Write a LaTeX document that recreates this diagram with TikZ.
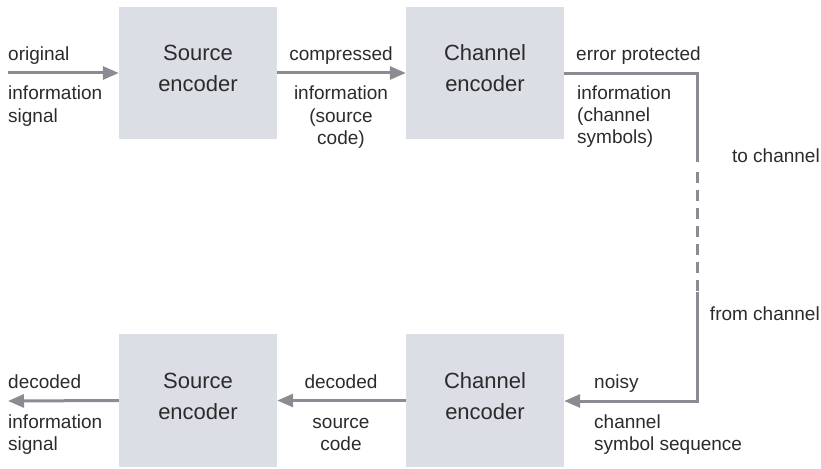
\documentclass[tikz,border=0pt]{standalone}
\usepackage{fontspec}
\setmainfont{Liberation Sans}
\usetikzlibrary{arrows.meta}
\definecolor{boxfill}{HTML}{DCDEE5}
\definecolor{flow}{HTML}{8C8B94}
\definecolor{ink}{HTML}{2B2B2B}

\begin{document}
\begin{tikzpicture}[x=1pt,y=-1pt,
  block/.style={fill=boxfill, minimum width=158pt, minimum height=132pt, inner sep=0pt,
    align=center, text=ink, font=\fontsize{22pt}{31pt}\selectfont},
  lbl/.style={text=ink, inner sep=0pt, font=\fontsize{19pt}{22pt}\selectfont},
  flowline/.style={draw=flow, line width=3pt},
  flowarrow/.style={flowline, -{Triangle[length=16pt,width=13pt]}}]

\useasboundingbox (0,0) rectangle (821,468);

% processing blocks
\node[block] (senc) at (198,73) {Source\\encoder\rule[-9pt]{0pt}{9pt}};
\node[block] (chenc) at (485,73) {Channel\\encoder\rule[-9pt]{0pt}{9pt}};
\node[block, minimum height=133pt] (chdec) at (485,400.5) {Channel\\encoder\rule[-9pt]{0pt}{9pt}};
\node[block, minimum height=133pt] (sdec) at (198,400.5) {Source\\encoder\rule[-9pt]{0pt}{9pt}};

% loose ends and bends of the signal path
\coordinate (src) at (8,73);
\coordinate (sink) at (8,401);
\coordinate (c1) at (697,74);
\coordinate (d1) at (697,162);
\coordinate (k1) at (697,172);
\coordinate (k2) at (697,291);
\coordinate (d2) at (697,292);
\coordinate (c2) at (697,401);

% signal path
\draw[flowarrow] (src) -- (senc.west);
\draw[flowarrow] (senc.east) -- (chenc.west);
\draw[flowline] (chenc.east |- c1) -- (c1) -- (d1);
\draw[flowline, dash pattern=on 11pt off 7pt] (k1) -- (k2);
\draw[flowarrow] (d2) -- (c2) -- (chdec.east |- c2);
\draw[flowarrow] (chdec.west) -- (sdec.east);
\draw[flowarrow] (sdec.west) -- (sink);

% labels (multi-line ones are placed by the baseline of their last line)
\node[lbl, anchor=base west] (l-orig) at (8,61) {original};
\node[lbl, anchor=base west, align=left] (l-info) at (8,122) {information\\signal};
\node[lbl, anchor=base] (l-comp) at (341,61) {compressed};
\node[lbl, anchor=base, align=center] (l-scode) at (341,144) {information\\(source\\code)};
\node[lbl, anchor=base west] (l-err) at (576,61) {error protected};
\node[lbl, anchor=base west, align=left] (l-csym) at (577,143) {information\\(channel\\symbols)};
\node[lbl, anchor=base east] (l-to) at (820,162) {to channel};
\node[lbl, anchor=base east] (l-from) at (820,320) {from channel};
\node[lbl, anchor=base west] (l-dec) at (8,388) {decoded};
\node[lbl, anchor=base west, align=left] (l-dinfo) at (8,450) {information\\signal};
\node[lbl, anchor=base] (l-dec2) at (341,388) {decoded};
\node[lbl, anchor=base, align=center] (l-dcode) at (341,450) {source\\code};
\node[lbl, anchor=base west] (l-noisy) at (594,388) {noisy};
\node[lbl, anchor=base west, align=left] (l-seq) at (594,450) {channel\\symbol sequence};
\end{tikzpicture}
\end{document}
